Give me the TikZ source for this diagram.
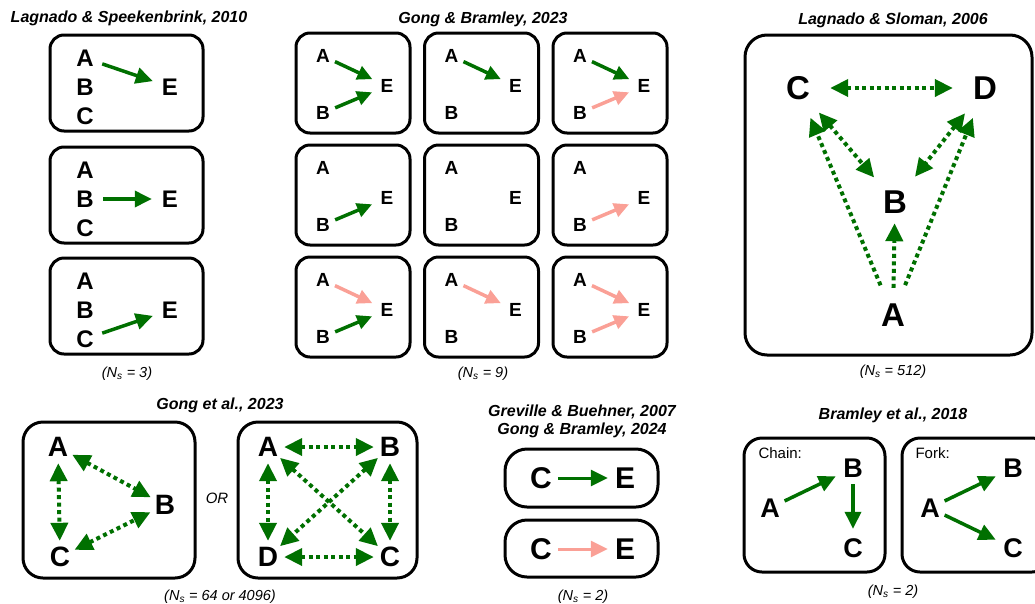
\documentclass[tikz,border=0pt]{standalone}
\usepackage{fontspec}
\setmainfont{Liberation Sans}
\usetikzlibrary{arrows.meta}
\definecolor{cgreen}{RGB}{0,112,0}
\definecolor{cpink}{RGB}{250,160,150}
\begin{document}
\begin{tikzpicture}[x=1pt, y=-1pt,
		panel/.style = {draw, line width=3pt, rounded corners=#1},
		panel/.default = 14pt,
		title/.style = {font=\fontsize{16}{18}\selectfont\bfseries\itshape, align=center},
		count/.style = {font=\fontsize{14.5}{16}\selectfont\itshape},
		var/.style 2 args = {circle, inner sep=0pt, minimum size=#2, font=\fontsize{#1}{#1}\selectfont\bfseries},
		>={Triangle[length=17pt, width=16pt]},
		link/.style = {line width=3.5pt, ->, color=#1},
		link/.default = cgreen,
		small/.style = {>={Triangle[length=15pt, width=14pt]}},
		dots/.style = {line width=4pt, dash pattern=on 4pt off 3.5pt, color=cgreen, >={Triangle[length=18pt, width=17pt]}}]
	\useasboundingbox (0,0) rectangle (1035,603);
	\clip (0,0) rectangle (1035,603);
	% Lagnado & Speekenbrink
	\node[title] (t1) at (129,18) {Lagnado \& Speekenbrink, 2010};
	\foreach \i/\y/\src in {0/35/A, 1/147/B, 2/258/C} {
		\draw[panel] (50,\y) rectangle (203,\y+96);
		\node[var={24}{36pt}] (l\i A) at (85,\y+23) {A};
		\node[var={24}{36pt}] (l\i B) at (85,\y+52) {B};
		\node[var={24}{36pt}] (l\i C) at (85,\y+81) {C};
		\node[var={24}{36pt}] (l\i E) at (170,\y+52) {E};
		\draw[link] (l\i\src) -- (l\i E);
	}
	\node[count] (n1) at (127,374) {(N\textsubscript{s} = 3)};
	% Gong & Bramley 2023
	\node[title] (t2) at (483,19) {Gong \& Bramley, 2023};
	\foreach \r in {0,1,2} {
		\foreach \c in {0,1,2} {
			\draw[panel] (296+128.5*\c,33+112*\r) rectangle +(114,100);
			\node[var={19}{26pt}] (g\r\c A) at (323+128.5*\c,56+112*\r) {A};
			\node[var={19}{26pt}] (g\r\c B) at (323+128.5*\c,113+112*\r) {B};
			\node[var={19}{26pt}] (g\r\c E) at (387+128.5*\c,86+112*\r) {E};
		}
	}
	\foreach \r/\c/\src/\col in {0/0/A/cgreen, 0/0/B/cgreen, 0/1/A/cgreen, 0/2/A/cgreen, 0/2/B/cpink,
			1/0/B/cgreen, 1/2/B/cpink, 2/0/A/cpink, 2/0/B/cgreen, 2/1/A/cpink, 2/2/A/cpink, 2/2/B/cpink}
		\draw[link=\col, small, shorten >=3pt] (g\r\c\src) -- (g\r\c E);
	\node[count] (n2) at (483,374) {(N\textsubscript{s} = 9)};
	% Lagnado & Sloman
	\node[title] (t3) at (893,20) {Lagnado \& Sloman, 2006};
	\draw[panel=22pt] (745,35) rectangle (1032,355);
	\node[var={33}{64pt}] (sC) at (798,88) {C};
	\node[var={33}{64pt}] (sD) at (985,88) {D};
	\node[var={33}{64pt}] (sB) at (895,202) {B};
	\node[var={33}{64pt}] (sA) at (893,315) {A};
	\draw[dots, <->] (sC) -- (sD);
	\draw[dots, <->] (sC) -- (sB);
	\draw[dots, <->] (sD) -- (sB);
	\draw[dots, ->] (sA) -- (sC);
	\draw[dots, ->, shorten >=-11pt, shorten <=-5pt] (sA) -- (sB);
	\draw[dots, ->] (sA) -- (sD);
	\node[count] (n3) at (893,372) {(N\textsubscript{s} = 512)};
	% Gong et al.
	\node[title] (t4) at (220,405) {Gong et al., 2023};
	\draw[panel=20pt] (23,422) rectangle (195,578);
	\node[var={28}{32pt}] (tA) at (58,447) {A};
	\node[var={28}{32pt}] (tB) at (165,505) {B};
	\node[var={28}{32pt}] (tC) at (60,557) {C};
	\draw[dots, <->] (tA) -- (tC);
	\draw[dots, <->] (tA) -- (tB);
	\draw[dots, <->] (tC) -- (tB);
	\node[font=\fontsize{15}{15}\selectfont\itshape] (or) at (217,498) {OR};
	\draw[panel=20pt] (238,422) rectangle (417,578);
	\node[var={28}{32pt}] (qA) at (268,447) {A};
	\node[var={28}{32pt}] (qB) at (390,447) {B};
	\node[var={28}{32pt}] (qD) at (268,557) {D};
	\node[var={28}{32pt}] (qC) at (390,557) {C};
	\draw[dots, <->] (qA) -- (qB);
	\draw[dots, <->] (qA) -- (qD);
	\draw[dots, <->] (qB) -- (qC);
	\draw[dots, <->] (qD) -- (qC);
	\draw[dots, <->] (qA) -- (qC);
	\draw[dots, <->] (qB) -- (qD);
	\node[count] (n4) at (220,597) {(N\textsubscript{s} = 64 or 4096)};
	% Greville & Buehner
	\node[title] (t5) at (582,421) {Greville \& Buehner, 2007\\Gong \& Bramley, 2024};
	\draw[panel=22pt] (505,449) rectangle (658,507);
	\node[var={30}{34pt}] (c1) at (541,478) {C};
	\node[var={30}{34pt}] (e1) at (625,478) {E};
	\draw[link, line width=3pt] (c1) -- (e1);
	\draw[panel=22pt] (505,520) rectangle (658,577);
	\node[var={30}{34pt}] (c2) at (541,549) {C};
	\node[var={30}{34pt}] (e2) at (625,549) {E};
	\draw[link=cpink, line width=3pt] (c2) -- (e2);
	\node[count] (n5) at (583,597) {(N\textsubscript{s} = 2)};
	% Bramley et al.
	\node[title] (t6) at (893,415) {Bramley et al., 2018};
	\draw[panel=18pt] (744,438) rectangle (885,572);
	\node[anchor=west, font=\fontsize{15}{15}\selectfont] (chain) at (755,453) {Chain:};
	\node[var={27}{32pt}] (hA) at (770,508) {A};
	\node[var={27}{32pt}] (hB) at (853,468) {B};
	\node[var={27}{32pt}] (hC) at (853,548) {C};
	\draw[link, shorten >=3pt] (hA) -- (hB);
	\draw[link, shorten >=3pt] (hB) -- (hC);
	\draw[panel=18pt] (902,438) rectangle (1050,572);
	\node[anchor=west, font=\fontsize{15}{15}\selectfont] (fork) at (912,453) {Fork:};
	\node[var={27}{32pt}] (fA) at (930,508) {A};
	\node[var={27}{32pt}] (fB) at (1013,468) {B};
	\node[var={27}{32pt}] (fC) at (1013,548) {C};
	\draw[link, shorten >=3pt] (fA) -- (fB);
	\draw[link, shorten >=3pt] (fA) -- (fC);
	\node[count] (n6) at (893,592) {(N\textsubscript{s} = 2)};
\end{tikzpicture}
\end{document}
